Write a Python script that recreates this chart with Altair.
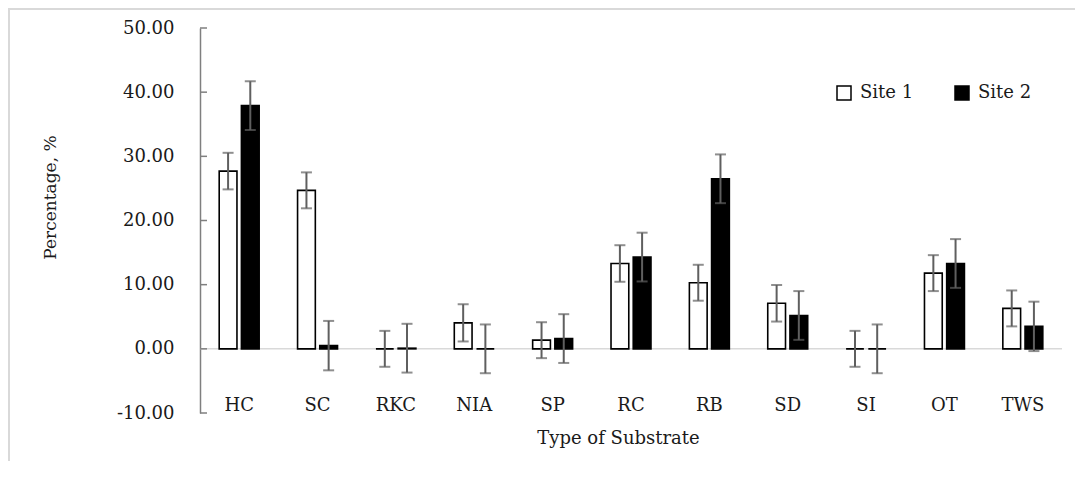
import altair as alt
import pandas as pd

categories = ["HC", "SC", "RKC", "NIA", "SP", "RC", "RB", "SD", "SI", "OT", "TWS"]
sites = ["Site 1", "Site 2"]
site1 = [27.7, 24.7, 0.0, 4.05, 1.35, 13.3, 10.3, 7.1, 0.0, 11.8, 6.3]
site1_err = [2.85, 2.8, 2.8, 2.9, 2.8, 2.85, 2.8, 2.85, 2.8, 2.8, 2.8]
site2 = [37.9, 0.5, 0.1, 0.0, 1.6, 14.3, 26.5, 5.2, 0.0, 13.3, 3.5]
site2_err = [3.8, 3.85, 3.8, 3.8, 3.8, 3.8, 3.8, 3.8, 3.8, 3.8, 3.85]
y_ticks = [-10, 0, 10, 20, 30, 40, 50]

rows = []
for i, c in enumerate(categories):
    for s, vals, errs in (("Site 1", site1, site1_err), ("Site 2", site2, site2_err)):
        v, e = vals[i], errs[i]
        rows.append({"category": c, "site": s, "value": v, "lo": v - e, "hi": v + e})
df = pd.DataFrame(rows)
tick_df = pd.DataFrame({"t": y_ticks})
zero_df = pd.DataFrame({"z": [0]})

FONT = "DejaVu Serif"
TXT = "#1a1a1a"
ERR = "#5f5f5f"
W, H = 862, 385

yscale = alt.Scale(domain=[-10, 50], nice=False, zero=False)

xenc = alt.X(
    "category:N", sort=categories,
    scale=alt.Scale(paddingInner=0.49, paddingOuter=0.245),
    axis=alt.Axis(
        title="Type of Substrate", labelAngle=0, domain=False, ticks=False, tickSize=0,
        labelPadding=-8, labelBaseline="middle", labelFont=FONT, labelFontSize=18,
        labelColor=TXT, titleFont=FONT, titleFontSize=18, titleFontWeight="normal",
        titleColor=TXT, titleX=418, titleY=25, titleBaseline="middle",
    ),
)
xoff = alt.XOffset("site:N", sort=sites, scale=alt.Scale(paddingInner=0.2, paddingOuter=0))

yaxis = alt.Axis(
    title="Percentage, %", values=y_ticks, grid=False, ticks=False,
    domain=True, domainColor="#7f7f7f", domainWidth=1.5,
    labelExpr="replace(format(datum.value, '.2f'), '\u2212', '-')",
    labelPadding=26, labelFont=FONT, labelFontSize=18, labelColor=TXT,
    titleFont=FONT, titleFontSize=17, titleFontWeight="normal", titleColor=TXT,
    titleX=-150, titleY=169, titleBaseline="middle",
)

zero_line = alt.Chart(zero_df).mark_rule(color="#d9d9d9", strokeWidth=1.5).encode(
    y=alt.Y("z:Q", scale=yscale, title="Percentage, %"), x=alt.value(0), x2=alt.value(W)
)

bars = alt.Chart(df).mark_bar(stroke="black", strokeWidth=1.6).encode(
    x=xenc, xOffset=xoff,
    y=alt.Y("value:Q", scale=yscale, axis=yaxis),
    fill=alt.Fill(
        "site:N", sort=sites,
        scale=alt.Scale(domain=sites, range=["white", "black"]),
        legend=alt.Legend(
            title=None, orient="none", legendX=635, legendY=56, direction="horizontal",
            symbolType="square", symbolSize=196, symbolStrokeColor="black",
            symbolStrokeWidth=1.5, labelFont=FONT, labelFontSize=18, labelColor=TXT,
            labelOffset=7, columnPadding=38, padding=0,
        ),
    ),
)

err_rule = alt.Chart(df).mark_rule(color=ERR, strokeWidth=2).encode(
    x=xenc, xOffset=xoff,
    y=alt.Y("lo:Q", title="Percentage, %"), y2="hi:Q",
)
cap_hi = alt.Chart(df).mark_tick(color=ERR, size=11, thickness=2, orient="horizontal").encode(
    x=xenc, xOffset=xoff, y=alt.Y("hi:Q", title="Percentage, %")
)
cap_lo = alt.Chart(df).mark_tick(color=ERR, size=11, thickness=2, orient="horizontal").encode(
    x=xenc, xOffset=xoff, y=alt.Y("lo:Q", title="Percentage, %")
)

yticks = alt.Chart(tick_df).mark_rule(color="#7f7f7f", strokeWidth=1.5).encode(
    y=alt.Y("t:Q", title="Percentage, %"), x=alt.value(0), x2=alt.value(7)
)

border = alt.Chart(zero_df).mark_rect(
    fill="transparent", stroke="#d9d9d9", strokeWidth=2
).encode(x=alt.value(-191), x2=alt.value(1000), y=alt.value(-19), y2=alt.value(700))

chart = alt.layer(zero_line, bars, err_rule, cap_hi, cap_lo, yticks, border).properties(
    width=W, height=H,
    autosize=alt.AutoSizeParams(type="none"),
    padding={"left": 192, "top": 20, "right": 13, "bottom": 48},
    background="white",
).configure_view(stroke=None)

chart.save("out.html", embed_options={"renderer": "svg", "actions": False})
